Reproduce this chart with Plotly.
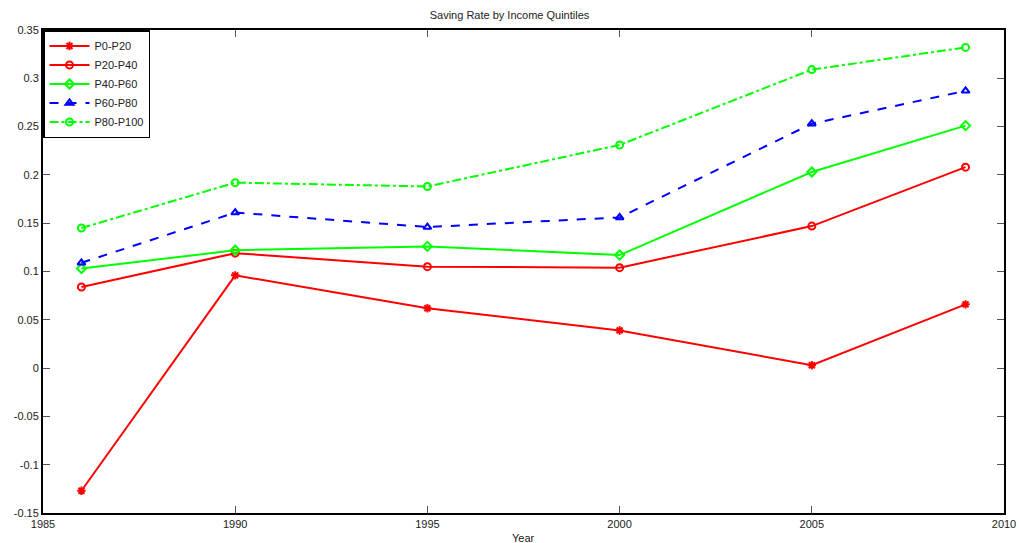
import plotly.graph_objects as go

years = [1986, 1990, 1995, 2000, 2005, 2009]
p0_20 = [-0.127, 0.096, 0.062, 0.039, 0.003, 0.066]
p20_40 = [0.084, 0.119, 0.105, 0.104, 0.147, 0.208]
p40_60 = [0.103, 0.122, 0.126, 0.117, 0.203, 0.251]
p60_80 = [0.109, 0.161, 0.146, 0.156, 0.253, 0.287]
p80_100 = [0.145, 0.192, 0.188, 0.231, 0.309, 0.332]

series = [
    ("P0-P20", p0_20, "#FF0000", "solid", "asterisk-open"),
    ("P20-P40", p20_40, "#FF0000", "solid", "circle-open"),
    ("P40-P60", p40_60, "#00FF00", "solid", "diamond-open"),
    ("P60-P80", p60_80, "#0000FF", "dash", "triangle-up-open"),
    ("P80-P100", p80_100, "#00FF00", "dashdot", "circle-open"),
]

ytickvals = [-0.15, -0.1, -0.05, 0, 0.05, 0.1, 0.15, 0.2, 0.25, 0.3, 0.35]
yticktext = ["-0.15", "-0.1", "-0.05", "0", "0.05", "0.1", "0.15", "0.2", "0.25", "0.3", "0.35"]
xtickvals = [1985, 1990, 1995, 2000, 2005, 2010]

fig = go.Figure()
for name, vals, color, dash, sym in series:
    fig.add_trace(go.Scatter(
        x=years, y=vals, name=name, mode="lines+markers",
        line=dict(color=color, width=2, dash=dash),
        marker=dict(symbol=sym, size=7, color=color, line=dict(color=color, width=2)),
    ))

fig.update_layout(
    width=1019, height=543,
    margin=dict(l=43, r=15, t=30, b=30, autoexpand=False),
    paper_bgcolor="white", plot_bgcolor="white",
    font=dict(family="Liberation Sans, Arial, sans-serif", size=11, color="#222"),
    title=dict(text="Saving Rate by Income Quintiles", x=0.5, xanchor="center",
               y=0.972, yanchor="middle", font=dict(size=11, color="#222")),
    showlegend=True,
    legend=dict(x=0, y=1, xanchor="left", yanchor="top",
                bordercolor="black", borderwidth=1.5, bgcolor="white",
                font=dict(size=11), tracegroupgap=0, itemwidth=40),
    annotations=[dict(text="Year", xref="paper", yref="paper", x=0.5, y=0,
                      xanchor="center", yanchor="top", yshift=-17, showarrow=False,
                      font=dict(size=11, color="#222"))],
)
fig.update_xaxes(range=[1985, 2010], tickvals=xtickvals, ticks="inside", ticklen=7,
                 tickcolor="#555", showline=True, linecolor="black", linewidth=2,
                 mirror="ticks", showgrid=False, zeroline=False, automargin=False)
fig.update_yaxes(range=[-0.15, 0.35], tickvals=ytickvals, ticktext=yticktext,
                 ticks="inside", ticklen=7, tickcolor="#555", showline=True,
                 linecolor="black", linewidth=2, mirror="ticks", showgrid=False,
                 zeroline=False, automargin=False)

fig.write_html("out.html")
